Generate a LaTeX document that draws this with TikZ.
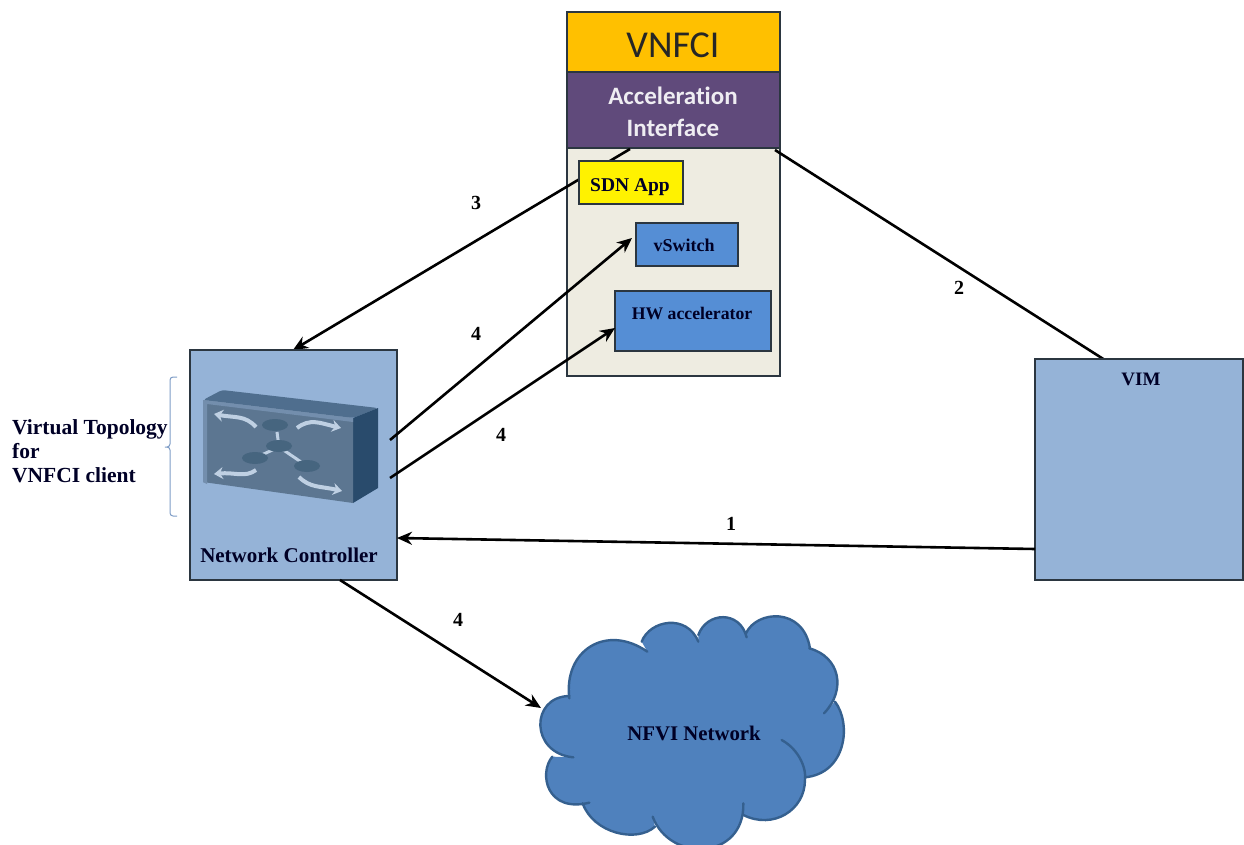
\documentclass[tikz,border=0pt]{standalone}
\usepackage{fontspec}
\setmainfont{Liberation Serif}
\newfontfamily\carlito[Ligatures=NoCommon]{Carlito}
\usetikzlibrary{arrows.meta}
\definecolor{ctrlblue}{HTML}{95B3D7}
\definecolor{boxblue}{HTML}{558ED5}
\definecolor{cloudblue}{HTML}{4F81BD}
\definecolor{cloudline}{HTML}{35608F}
\definecolor{vorange}{HTML}{FFC000}
\definecolor{vpurple}{HTML}{604A7B}
\definecolor{vbody}{HTML}{EEECE1}
\definecolor{edgegrey}{HTML}{2B3640}
\definecolor{swfront}{HTML}{5C7691}
\definecolor{swtop}{HTML}{4F6E8E}
\definecolor{swside}{HTML}{294B6C}
\definecolor{swlight}{HTML}{BFD0E3}
\definecolor{swdark}{HTML}{46657F}
\definecolor{bracecol}{HTML}{7E9CC6}
\tikzset{
  box/.style={draw=edgegrey,line width=1.2pt,anchor=north west,inner sep=0pt,outer sep=0pt},
  lbl/.style={text=black!85!blue,inner sep=0pt},
  numlbl/.style={font=\fontsize{20}{20}\selectfont\bfseries,text=black,inner sep=0pt},
  link/.style={draw=black,line width=2.6pt},
  linkarrow/.style={link,-{Stealth[length=15pt,width=13pt]}},
  swarrow/.style={draw=swlight,line width=4pt,-{Stealth[length=9pt,width=12pt]}},
  swnode/.style={fill=swdark},
  swlink/.style={draw=swlight,line width=3pt},
  cloudedge/.style={draw=cloudline,line width=2.4pt,line cap=round}
}
\begin{document}
\begin{tikzpicture}[x=1pt,y=-1pt]
\useasboundingbox (0,0) rectangle (1244,845);
\clip (0,0) rectangle (1244,845);
% coordinates for connector ends
\coordinate (c1s) at (1035,549);
\coordinate (c1e) at (397,538);
\coordinate (c2s) at (775,150);
\coordinate (c2e) at (1108,362);
\coordinate (c3s) at (630,149);
\coordinate (c3e) at (293,350);
\coordinate (c4as) at (390,440);
\coordinate (c4ae) at (632,238);
\coordinate (c4bs) at (390,478);
\coordinate (c4be) at (615,328);
\coordinate (c4cs) at (340,580);
\coordinate (c4ce) at (541,708);
% VNF stack
\node[box,fill=vbody,minimum width=213pt,minimum height=228pt] (body) at (567,148) {};
\node[box,fill=vorange,minimum width=213pt,minimum height=60pt] (vnfci) at (567,12) {};
\node[font=\carlito\fontsize{38}{38}\selectfont,text=black!85,inner sep=0pt] (vnfcitxt) at (673,45) {VNFCI};
\node[box,fill=vpurple,minimum width=213pt,minimum height=76pt] (accel) at (567,72) {};
\node[font=\carlito\fontsize{25}{25}\selectfont\bfseries,text=white!90!vpurple,inner sep=0pt] (acc1) at (673,96) {Acceleration};
\node[font=\carlito\fontsize{25}{25}\selectfont\bfseries,text=white!90!vpurple,inner sep=0pt] (acc2) at (673,128) {Interface};
% connector 3 runs under SDN App
\draw[linkarrow] (c3s) -- (c3e);
\draw[link] (c2s) -- (c2e);
\node[box,fill=yellow,minimum width=104pt,minimum height=43pt] (sdn) at (579,161) {};
\node[lbl,font=\fontsize{19.5}{19.5}\selectfont\bfseries] (sdntxt) at (630,187) {SDN App};
\node[box,fill=boxblue,minimum width=102pt,minimum height=43pt] (vsw) at (636,223) {};
\node[lbl,font=\fontsize{18}{18}\selectfont\bfseries] (vswtxt) at (684,245) {vSwitch};
\node[box,fill=boxblue,minimum width=156pt,minimum height=60pt] (hw) at (615,291) {};
\node[lbl,font=\fontsize{17.7}{17.7}\selectfont\bfseries] (hwtxt) at (692,313) {HW accelerator};
% Network controller
\node[box,fill=ctrlblue,minimum width=207pt,minimum height=230pt] (nc) at (190,350) {};
\node[lbl,font=\fontsize{21}{21}\selectfont\bfseries] (nctxt) at (289,555) {Network Controller};
% switch icon
\fill[swtop,rounded corners=3pt] (203,400) -- (222,390) -- (378,408) -- (353,418) -- cycle;
\fill[swside] (353,418) -- (378,408) -- (378,488) -- (353,503) -- cycle;
\fill[swfront] (203,400) -- (353,418) -- (353,503) -- (203,482) -- cycle;
\fill[swfront!60!ctrlblue] (203,400) -- (353,418) -- (353,422) -- (207,404) -- (207,484) -- (203,482) -- cycle;
\draw[swlink] (277,432) -- (279,447) (279,447) -- (255,458) (279,447) -- (307,466);
\fill[swnode] (275,425) ellipse (13pt and 6pt);
\fill[swnode] (279,446) ellipse (13pt and 6pt);
\fill[swnode] (255,458) ellipse (13pt and 6pt);
\fill[swnode] (307,466) ellipse (13pt and 6pt);
\draw[swarrow] (256,427) .. controls (245,415) and (235,418) .. (214,414);
\draw[swarrow] (297,428) .. controls (310,418) and (320,423) .. (341,428);
\draw[swarrow] (256,470) .. controls (245,478) and (235,472) .. (214,474);
\draw[swarrow] (299,477) .. controls (310,488) and (320,486) .. (342,491);
% brace and left text
\draw[bracecol,line width=1pt,rounded corners=3pt] (177,377) -- (170,377) -- (170,447) -- (163,447) -- (170,447) -- (170,516) -- (177,516);
\node[lbl,font=\fontsize{21.5}{21.5}\selectfont\bfseries,anchor=base west] (vt1) at (12,434) {Virtual Topology};
\node[lbl,font=\fontsize{21.5}{21.5}\selectfont\bfseries,anchor=base west] (vt2) at (12,458) {for};
\node[lbl,font=\fontsize{21.5}{21.5}\selectfont\bfseries,anchor=base west] (vt3) at (12,482) {VNFCI client};
% VIM
\node[box,fill=ctrlblue,minimum width=208pt,minimum height=221pt] (vim) at (1035,359) {};
\node[lbl,font=\fontsize{19}{19}\selectfont\bfseries] (vimtxt) at (1141,379) {VIM};
% cloud
\begin{scope}[shift={(530,600)},x=0.3333pt,y=-0.3333pt]
\fill[cloudblue] (118,295) .. controls (100,150) and (230,70) .. (352,155)
  -- (335,125) .. controls (360,60) and (470,40) .. (505,125)
  -- (505,105) .. controls (530,35) and (630,30) .. (650,112)
  -- (648,100) .. controls (680,30) and (820,20) .. (840,145)
  -- (838,145) .. controls (930,170) and (950,270) .. (882,340)
  -- (915,305) .. controls (965,370) and (950,520) .. (825,532)
  -- (825,540) .. controls (825,630) and (730,690) .. (640,645)
  -- (640,610) .. controls (645,780) and (420,790) .. (368,650)
  -- (375,680) .. controls (320,730) and (190,700) .. (158,610)
  -- (178,608) .. controls (50,640) and (25,520) .. (67,470)
  -- (130,472) .. controls (0,460) and (0,290) .. (118,288) -- cycle;
\draw[cloudedge] (118,295) .. controls (100,150) and (230,70) .. (352,155);
\draw[cloudedge] (335,125) .. controls (360,60) and (470,40) .. (505,125);
\draw[cloudedge] (505,105) .. controls (530,35) and (630,30) .. (650,112);
\draw[cloudedge] (648,100) .. controls (680,30) and (820,20) .. (840,145);
\draw[cloudedge] (838,145) .. controls (930,170) and (950,270) .. (882,340);
\draw[cloudedge] (915,305) .. controls (965,370) and (950,520) .. (825,532);
\draw[cloudedge] (755,420) .. controls (810,450) and (830,510) .. (825,540) .. controls (825,630) and (730,690) .. (640,645);
\draw[cloudedge] (640,610) .. controls (645,780) and (420,790) .. (368,650);
\draw[cloudedge] (375,680) .. controls (320,730) and (190,700) .. (158,610);
\draw[cloudedge] (178,608) .. controls (50,640) and (25,520) .. (67,470);
\draw[cloudedge] (130,472) .. controls (0,460) and (0,290) .. (118,288);
\end{scope}
\node[lbl,font=\fontsize{20.8}{20.8}\selectfont\bfseries] (cloudtxt) at (694,733) {NFVI Network};
% connectors
\draw[linkarrow] (c1s) -- (c1e);
\draw[linkarrow] (c4as) -- (c4ae);
\draw[linkarrow] (c4bs) -- (c4be);
\draw[linkarrow] (c4cs) -- (c4ce);
% numbers
\node[numlbl] (n3) at (476,203) {3};
\node[numlbl] (n2) at (959,288) {2};
\node[numlbl] (n4a) at (476,334) {4};
\node[numlbl] (n4b) at (501,435) {4};
\node[numlbl] (n1) at (731,524) {1};
\node[numlbl] (n4c) at (458,620) {4};
\end{tikzpicture}
\end{document}
